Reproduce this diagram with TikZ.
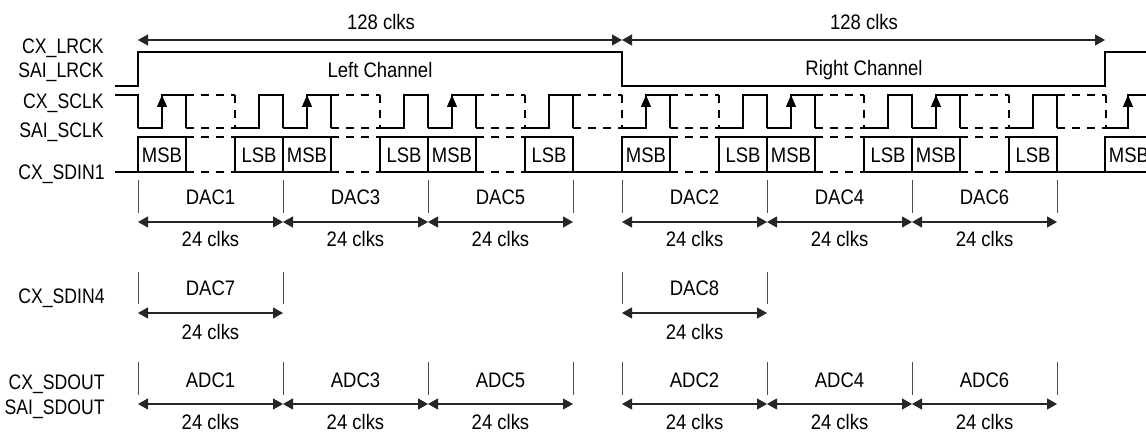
\documentclass[tikz,border=0pt]{standalone}
\usepackage{fontspec}
\setmainfont[FakeStretch=0.88]{Liberation Sans}
\newfontfamily\sigfont[FakeStretch=0.84]{Liberation Sans}
\usetikzlibrary{arrows.meta}
\tikzset{
  sig/.style={line width=0.6pt, black},
  dsh/.style={sig, dash pattern=on 4pt off 3.5pt},
  dimarr/.style={line width=0.55pt, black!85, {Triangle[length=5pt,width=5.5pt]}-{Triangle[length=5pt,width=5.5pt]}},
  tickline/.style={line width=0.5pt, black!70},
  edgearr/.style={sig, -{Triangle[length=6pt,width=5pt]}},
  lbl/.style={font=\fontsize{10.5}{12}\selectfont, inner sep=0pt},
  siglbl/.style={font=\fontsize{10.5}{12}\sigfont, inner sep=0pt, anchor=east},
}
\begin{document}
\begin{tikzpicture}[x=0.5pt, y=-0.5pt]
\useasboundingbox (0,0) rectangle (1146,432);
\clip (0,0) rectangle (1146,432);

% signal names
\node[siglbl] (nlrck)  at (104,48)  {CX\_LRCK};
\node[siglbl] (nslrck) at (104,72)  {SAI\_LRCK};
\node[siglbl] (nsclk)  at (104,103) {CX\_SCLK};
\node[siglbl] (nssclk) at (104,132) {SAI\_SCLK};
\node[siglbl] (nsdin1) at (105,174) {CX\_SDIN1};
\node[siglbl] (nsdin4) at (105,298) {CX\_SDIN4};
\node[siglbl] (nsdout) at (105,384) {CX\_SDOUT};
\node[siglbl] (nssdout) at (105,409) {SAI\_SDOUT};

% 128 clks
\coordinate (fa) at (138,40);
\coordinate (fb) at (622,40);
\coordinate (fc) at (1105,40);
\draw[dimarr] (fa) -- (fb);
\draw[dimarr] (fb) -- (fc);
\node[lbl] (t128a) at (381,22) {128 clks};
\node[lbl] (t128b) at (864,22) {128 clks};

% LRCK
\draw[sig] (115,86) -- (138,86) -- (138,52) -- (622,52) -- (622,86) -- (1105,86) -- (1105,52) -- (1146,52);
\node[lbl] (lch) at (380,70) {Left Channel};
\node[lbl] (rch) at (864,70) {Right Channel};

% SCLK
\draw[sig] (115,95) -- (138,95) -- (138,128);
\foreach \s in {138,283,428,622,767,912} {
  \draw[sig] (\s,128) -- (\s+24,128) -- (\s+24,95) -- (\s+48,95) -- (\s+48,128);
  \draw[dsh] (\s+48,128) -- (\s+97,128);
  \draw[dsh] (\s+48,95) -- (\s+97,95);
  \draw[dsh] (\s+97,95) -- (\s+97,128);
  \draw[sig] (\s+97,128) -- (\s+121,128) -- (\s+121,95) -- (\s+145,95) -- (\s+145,128);
  \draw[edgearr] (\s+24,128) -- (\s+24,95);
}
\foreach \g in {573,1057} {
  \draw[dsh] (\g,95) -- (\g+49,95);
  \draw[dsh] (\g,128) -- (\g+49,128);
  \draw[dsh] (\g+49,95) -- (\g+49,128);
}
\draw[sig] (1105,128) -- (1128,128) -- (1128,95) -- (1146,95);
\draw[edgearr] (1128,128) -- (1128,95);

% SDIN1 data
\draw[sig] (115,172) -- (138,172);
\foreach \s [count=\i] in {138,283,428,622,767,912} {
  \draw[sig] (\s,137) rectangle (\s+48,172);
  \node[lbl] (msb\i) at (\s+24,155) {MSB};
  \draw[dsh] (\s+48,137) -- (\s+97,137);
  \draw[dsh] (\s+48,172) -- (\s+97,172);
  \draw[sig] (\s+97,137) rectangle (\s+145,172);
  \node[lbl] (lsb\i) at (\s+121,155) {LSB};
}
\draw[sig] (573,172) -- (622,172);
\draw[sig] (1057,172) -- (1105,172);
\draw[sig] (1105,137) rectangle (1153,172);
\node[lbl] (msb7) at (1129,155) {MSB};

% SDIN1 and SDOUT slot marks
\foreach \x in {138,283,428,573,622,767,912,1057} {
  \draw[tickline] (\x,180) -- (\x,213);
  \draw[tickline] (\x,362) -- (\x,395);
}
\foreach \s/\n in {138/1,283/3,428/5,622/2,767/4,912/6} {
  \coordinate (da\n) at (\s,222);
  \coordinate (db\n) at (\s+145,222);
  \draw[dimarr] (da\n) -- (db\n);
  \node[lbl] (dac\n) at (\s+72.5,197) {DAC\n};
  \node[lbl] (dclk\n) at (\s+72.5,239) {24 clks};
  \coordinate (aa\n) at (\s,404);
  \coordinate (ab\n) at (\s+145,404);
  \draw[dimarr] (aa\n) -- (ab\n);
  \node[lbl] (adc\n) at (\s+72.5,380) {ADC\n};
  \node[lbl] (aclk\n) at (\s+72.5,422) {24 clks};
}

% SDIN4 slots
\foreach \s/\n in {138/7,622/8} {
  \draw[tickline] (\s,272) -- (\s,304);
  \draw[tickline] (\s+145,272) -- (\s+145,304);
  \coordinate (da\n) at (\s,313);
  \coordinate (db\n) at (\s+145,313);
  \draw[dimarr] (da\n) -- (db\n);
  \node[lbl] (dac\n) at (\s+72.5,288) {DAC\n};
  \node[lbl] (dclk\n) at (\s+72.5,332) {24 clks};
}
\end{tikzpicture}
\end{document}
